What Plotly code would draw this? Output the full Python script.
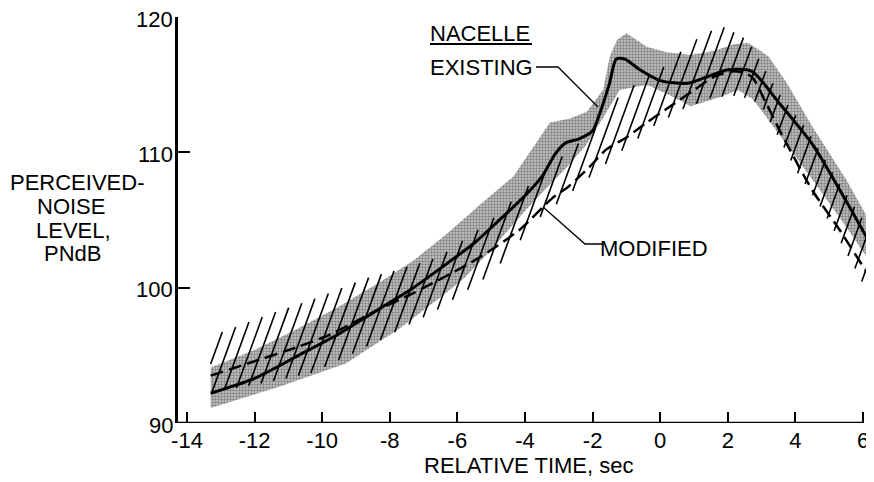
import numpy as np
import plotly.graph_objects as go

# ---------------- data ----------------
existing_x = [-13.3, -12.0, -10.7, -9.5, -8.4, -7.3, -6.3, -5.5, -4.8, -4.0, -3.5, -3.1, -2.8,
              -2.4, -2.0, -1.8, -1.5, -1.3, -1.05, -0.6, 0.0, 0.8, 1.4, 2.0, 2.7, 3.5, 4.5, 5.5, 6.4]
existing_y = [92.2, 93.3, 95.0, 96.6, 98.3, 100.0, 101.8, 103.3, 104.9, 106.8, 108.2, 109.9, 110.7,
              111.0, 111.6, 112.8, 115.1, 116.9, 116.9, 116.1, 115.3, 115.1, 115.6, 116.1, 116.0, 113.7, 110.6, 106.4, 102.4]

modified_x = [-13.3, -12.2, -10.75, -9.8, -8.4, -7.3, -6.3, -5.3, -4.15, -3.2, -2.7, -2.1, -1.6,
              -1.0, -0.4, 0.3, 1.0, 1.6, 2.2, 2.7, 3.1, 3.6, 4.5, 5.3, 6.1, 6.4]
modified_y = [93.5, 94.4, 95.6, 96.5, 98.3, 99.6, 100.9, 102.3, 104.3, 106.6, 107.5, 108.9, 110.2,
              111.1, 112.2, 113.4, 114.6, 115.6, 116.0, 115.6, 113.8, 111.3, 107.2, 104.3, 101.2, 100.2]

# scatter band of the existing nacelle (stippled)
existing_band_upper_x = [-13.3, -12.0, -10.7, -9.5, -8.3, -7.3, -6.3, -5.3, -4.35, -3.56, -3.26, -2.67, -2.17,
                         -1.69, -1.49, -1.28, -1.0, -0.4, 0.2, 0.9, 1.6, 2.2, 2.6, 3.2, 3.75, 4.5, 5.5, 6.4]
existing_band_upper_y = [94.1, 95.4, 97.0, 98.6, 100.4, 102.0, 104.0, 106.2, 108.2, 111.1, 112.2, 112.5, 113.0,
                         114.6, 117.1, 118.3, 118.8, 117.8, 117.4, 117.2, 117.5, 118.0, 118.1, 117.1, 115.1, 111.9, 108.0, 104.0]
existing_band_lower_x = [-13.3, -11.25, -9.3, -7.7, -6.5, -5.8, -5.0, -4.06, -3.35, -2.8, -2.2, -1.7, -1.2,
                         -0.4, 0.3, 0.9, 1.8, 2.3, 2.75, 3.5, 4.5, 5.5, 6.4]
existing_band_lower_y = [91.1, 92.7, 94.4, 97.0, 99.3, 100.7, 102.8, 105.5, 107.4, 108.8, 110.5, 112.5, 114.6,
                         115.0, 114.2, 113.4, 114.1, 114.6, 113.9, 111.4, 108.0, 104.5, 101.2]

# scatter band of the modified nacelle (hatched)
modified_band_upper_x = [-13.3, -11.5, -10.2, -8.7, -7.8, -6.5, -5.0, -4.0, -3.0, -2.0, -1.2, -0.7,
                         0.1, 0.9, 1.8, 2.6, 3.45, 4.34, 5.23, 6.4]
modified_band_upper_y = [96.4, 98.1, 99.2, 100.7, 101.3, 102.3, 105.0, 107.3, 109.5, 111.5, 114.2, 115.1,
                         116.3, 118.1, 119.4, 118.3, 114.6, 111.7, 108.0, 103.5]
modified_band_lower_x = [-13.3, -12.0, -10.3, -8.3, -6.5, -5.0, -3.56, -3.05, -1.78, -1.19, -0.21, 0.59,
                         1.5, 2.3, 2.95, 3.54, 4.05, 4.73, 5.3, 6.1, 6.4]
modified_band_lower_y = [92.3, 92.8, 93.7, 96.1, 98.5, 101.0, 105.2, 106.2, 108.8, 110.0, 111.9, 113.1,
                         114.0, 114.2, 113.6, 110.9, 108.5, 106.0, 103.5, 99.8, 98.8]

x_tick_vals = [-14, -12, -10, -8, -6, -4, -2, 0, 2, 4, 6]
x_tick_text = ["-14", "-12", "-10", "-8", "-6", "-4", "-2", "0", "2", "4", "6"]
y_tick_vals = [90, 100, 110, 120]
y_tick_text = ["90", "100", "110", "120"]

y_title_lines = ["PERCEIVED-", "NOISE", "LEVEL,", "PNdB"]
x_title = "RELATIVE TIME, sec"
legend_title = "NACELLE"
label_existing = "EXISTING"
label_modified = "MODIFIED"

# ---------------- layout geometry ----------------
PAGE_W, PAGE_H = 874, 482
BODY_MARGIN = 8                      # default page margin around the plot div
PLOT_L, PLOT_R, PLOT_T, PLOT_B = 178, 874, 17, 423   # plot area in window pixels
W, H = PAGE_W - BODY_MARGIN, PAGE_H - BODY_MARGIN
M_L, M_T = PLOT_L - BODY_MARGIN, PLOT_T - BODY_MARGIN
M_R, M_B = 0, H - (PLOT_B - BODY_MARGIN)
X_RANGE = [-14.266, 6.325]
Y_RANGE = [90, 120]
FONT = "Liberation Sans, Arial, sans-serif"
FS = 22

px_per_x = (PLOT_R - PLOT_L) / (X_RANGE[1] - X_RANGE[0])
px_per_y = (PLOT_B - PLOT_T) / (Y_RANGE[1] - Y_RANGE[0])


def px2x(p):
    return X_RANGE[0] + (p - PLOT_L) / px_per_x


def py2y(p):
    return Y_RANGE[0] + (PLOT_B - p) / px_per_y


def px2paper(p):
    return (p - PLOT_L) / (PLOT_R - PLOT_L)


def py2paper(p):
    return (PLOT_B - p) / (PLOT_B - PLOT_T)


fig = go.Figure()

# stippled band (existing)
fig.add_trace(go.Scatter(
    x=existing_band_upper_x + existing_band_lower_x[::-1],
    y=existing_band_upper_y + existing_band_lower_y[::-1],
    fill="toself", mode="lines", line=dict(width=0, color="rgba(0,0,0,0)"),
    fillcolor="rgb(185,185,185)",
    fillpattern=dict(shape=".", size=3, solidity=0.5, fgcolor="rgb(60,60,60)", bgcolor="rgb(200,200,200)"),
    hoverinfo="skip", showlegend=False))

# hatch band (modified): steep parallel lines clipped to the band
angle = np.deg2rad(70)
k = np.tan(angle) * px_per_x / px_per_y       # slope in data units
spacing_px = 11.5
dc = k * spacing_px / px_per_x
xs = np.linspace(min(modified_band_upper_x[0], modified_band_lower_x[0]),
                 max(modified_band_upper_x[-1], modified_band_lower_x[-1]), 6000)
yu = np.interp(xs, modified_band_upper_x, modified_band_upper_y)
yl = np.interp(xs, modified_band_lower_x, modified_band_lower_y)
cmin = (yl - k * xs).min()
cmax = (yu - k * xs).max()
hx, hy = [], []
for c in np.arange(cmin, cmax, dc):
    yline = k * xs + c
    mask = (yline >= yl) & (yline <= yu)
    if mask.sum() < 2:
        continue
    x0, x1 = xs[mask].min(), xs[mask].max()
    hx += [x0, x1, None]
    hy += [k * x0 + c, k * x1 + c, None]
fig.add_trace(go.Scatter(x=hx, y=hy, mode="lines", line=dict(color="black", width=1.6),
                         hoverinfo="skip", showlegend=False))

# curves
fig.add_trace(go.Scatter(x=existing_x, y=existing_y, mode="lines",
                         line=dict(color="black", width=3, shape="spline", smoothing=0.7),
                         showlegend=False))
fig.add_trace(go.Scatter(x=modified_x, y=modified_y, mode="lines",
                         line=dict(color="black", width=2.5, dash="13px,6px", shape="spline", smoothing=0.7),
                         showlegend=False))

# x axis line ending at the last tick
fig.add_shape(type="line", xref="x", yref="y", x0=X_RANGE[0], x1=x_tick_vals[-1], y0=Y_RANGE[0], y1=Y_RANGE[0],
              line=dict(color="black", width=2.5), layer="above")

# labels and leaders
txt = dict(family=FONT, size=FS, color="black")
ann = []
ann.append(dict(x=px2x(480), y=py2y(33), xref="x", yref="y", text=legend_title, showarrow=False, font=txt,
                xanchor="center", yanchor="middle"))
fig.add_shape(type="line", xref="x", yref="y", x0=px2x(430), x1=px2x(532), y0=py2y(44), y1=py2y(44),
              line=dict(color="black", width=2))
ann.append(dict(x=px2x(481), y=py2y(67), xref="x", yref="y", text=label_existing, showarrow=False, font=txt,
                xanchor="center", yanchor="middle"))
fig.add_trace(go.Scatter(x=[px2x(536), px2x(558), px2x(598)], y=[py2y(67), py2y(67), py2y(107)],
                         mode="lines", line=dict(color="black", width=1.3), hoverinfo="skip", showlegend=False))
ann.append(dict(x=px2x(654), y=py2y(248), xref="x", yref="y", text=label_modified, showarrow=False, font=txt,
                xanchor="center", yanchor="middle"))
fig.add_trace(go.Scatter(x=[px2x(543), px2x(585), px2x(603)], y=[py2y(207), py2y(244), py2y(244)],
                         mode="lines", line=dict(color="black", width=1.3), hoverinfo="skip", showlegend=False))

# y-axis title, one centred line each
y_title_centres = [77, 71, 74, 72]
for i, t in enumerate(y_title_lines):
    ann.append(dict(x=px2paper(y_title_centres[i]), y=py2paper(183 + 23.5 * i),
                    xref="paper", yref="paper", text=t, showarrow=False, font=txt,
                    xanchor="center", yanchor="middle"))
ann.append(dict(x=px2x(528), y=py2paper(465), xref="x", yref="paper", text=x_title,
                showarrow=False, font=txt, xanchor="center", yanchor="middle"))

# y tick labels, right-aligned just left of the axis
for v, t in zip(y_tick_vals, y_tick_text):
    ann.append(dict(x=px2paper(175), y=v, xref="paper", yref="y", text=t, showarrow=False, font=txt,
                    xanchor="right", yanchor="middle", yshift=-2))

fig.update_layout(
    width=W, height=H, margin=dict(l=M_L, r=M_R, t=M_T, b=M_B),
    plot_bgcolor="white", paper_bgcolor="white",
    annotations=ann, showlegend=False,
    xaxis=dict(range=X_RANGE, showline=False, showgrid=False, zeroline=False,
               tickvals=x_tick_vals, ticktext=x_tick_text, ticks="inside", ticklen=11, tickwidth=2,
               tickcolor="black", tickfont=txt, ticklabelstandoff=2, ticklabeloverflow="allow"),
    yaxis=dict(range=Y_RANGE, showline=True, linecolor="black", linewidth=2.5, showgrid=False, zeroline=False,
               tickvals=y_tick_vals, ticks="inside", ticklen=12, tickwidth=2,
               tickcolor="black", showticklabels=False),
)

fig.write_html("out.html")
